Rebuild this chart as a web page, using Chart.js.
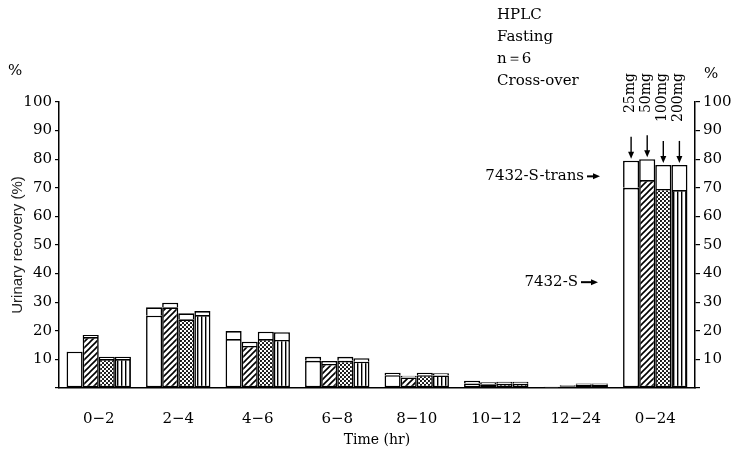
<!DOCTYPE html>
<html><head><meta charset="utf-8">
<script src="https://cdn.jsdelivr.net/npm/chart.js@4/dist/chart.umd.min.js"></script>
<style>html,body{margin:0;padding:0;background:#fff}#wrap{width:732px;height:459px}</style>
</head><body><div id="wrap"><canvas id="c" width="732" height="459"></canvas></div>
<script>
const categories = ['0\u22122','2\u22124','4\u22126','6\u22128','8\u221210','10\u221212','12\u221224','0\u221224'];
const doses = ['25mg','50mg','100mg','200mg'];
// 7432-S (lower, patterned part)
const s25  = [12.7, 25.3, 17.1, 9.5, 4.5, 1.6, 0.2, 70.0];
const s50  = [17.8, 28.2, 14.7, 8.4, 3.7, 1.3, 0.6, 72.7];
const s100 = [10.1, 24.0, 17.1, 9.5, 4.5, 1.5, 1.1, 69.6];
const s200 = [10.1, 25.5, 16.8, 9.2, 4.4, 1.5, 1.1, 69.2];
// 7432-S-trans (upper, white part)
const tr25  = [0.1, 2.9, 2.8, 1.4, 0.8, 0.9, 0.2, 9.5];
const tr50  = [0.7, 1.6, 1.5, 1.0, 0.6, 0.7, 0.4, 7.3];
const tr100 = [0.8, 2.1, 2.6, 1.4, 0.8, 0.7, 0.5, 8.4];
const tr200 = [0.8, 1.4, 2.7, 1.2, 0.8, 0.7, 0.5, 8.8];
const yTicks = [10,20,30,40,50,60,70,80,90,100];

const canvas = document.getElementById('c');
const ctx = canvas.getContext('2d');
function mk(w,h,draw){const c=document.createElement('canvas');c.width=w;c.height=h;const g=c.getContext('2d');g.fillStyle='#fff';g.fillRect(0,0,w,h);draw(g);return ctx.createPattern(c,'repeat');}
const pHatch = mk(6,6,g=>{g.strokeStyle='#000';g.lineWidth=1.6;g.beginPath();g.moveTo(-1,7);g.lineTo(7,-1);g.moveTo(-1,1);g.lineTo(1,-1);g.moveTo(5,7);g.lineTo(7,5);g.stroke();});
const pDots = mk(4,4,g=>{g.fillStyle='#000';g.beginPath();g.arc(1,1,1.05,0,7);g.fill();g.beginPath();g.arc(3,3,1.05,0,7);g.fill();});
const pVert = mk(4,4,g=>{g.fillStyle='#000';g.fillRect(1,0,1.4,4);});
const fills = ['#fff', pHatch, pDots, pVert];
const sArr = [s25,s50,s100,s200];
const tArr = [tr25,tr50,tr100,tr200];

const datasets = [];
for (let i=0;i<4;i++) datasets.push({label:'7432-S '+doses[i],data:sArr[i],stack:'d'+i,backgroundColor:fills[i],borderColor:'#000',borderWidth:1.6,borderSkipped:false});
for (let i=0;i<4;i++) datasets.push({label:'7432-S-trans '+doses[i],data:tArr[i],stack:'d'+i,backgroundColor:'#fff',borderColor:'#000',borderWidth:1.6,borderSkipped:'bottom'});

const serif = 'DejaVu Serif';
const annot = {
  id:'annot',
  afterDraw(chart){
    const c=chart.ctx; c.save(); c.fillStyle='#000'; c.strokeStyle='#000';
    c.font='15px "'+serif+'"'; c.textBaseline='middle'; c.textAlign='left';
    c.fillText('%',8,71); c.fillText('%',704,74);
    c.fillText('HPLC',497,15); c.fillText('Fasting',497,37); c.fillText('n\uFF1D6',497,59); c.fillText('Cross-over',497,81);
    const y=chart.scales.y;
    for (let i=0;i<4;i++){
      const bar=chart.getDatasetMeta(4+i).data[7];
      const x=bar.x, top=bar.y;
      c.save(); c.translate(x-1,73); c.rotate(-Math.PI/2); c.font='14px "'+serif+'"'; c.textAlign='right'; c.textBaseline='middle'; c.fillText(doses[i],0,0); c.restore();
      const yEnd=top-2, yStart=yEnd-22;
      c.lineWidth=1.4; c.beginPath(); c.moveTo(x,yStart); c.lineTo(x,yEnd-5); c.stroke();
      c.beginPath(); c.moveTo(x-3,yEnd-7); c.lineTo(x+3,yEnd-7); c.lineTo(x,yEnd); c.closePath(); c.fill();
    }
    c.font='15px "'+serif+'"'; c.textAlign='right'; c.textBaseline='middle';
    const ly1=y.getPixelForValue(74), ly2=y.getPixelForValue(37);
    c.fillText('7432-S-trans',584,ly1); c.fillText('7432-S',578,ly2);
    function arr(x0,x1,yy){c.lineWidth=2;c.beginPath();c.moveTo(x0,yy);c.lineTo(x1-5,yy);c.stroke();c.beginPath();c.moveTo(x1-7,yy-3);c.lineTo(x1,yy);c.lineTo(x1-7,yy+3);c.closePath();c.fill();}
    arr(587,600,ly1); arr(581,598,ly2);
    c.restore();
  }
};

new Chart(ctx,{
  type:'bar',
  data:{labels:categories,datasets},
  options:{
    responsive:false,animation:false,
    layout:{padding:{top:102,left:0,right:0,bottom:0}},
    datasets:{bar:{categoryPercentage:0.81,barPercentage:1.0}},
    plugins:{legend:{display:false},tooltip:{enabled:false}},
    scales:{
      x:{stacked:true,grid:{display:false},border:{display:true,color:'#000',width:1.5},
         ticks:{color:'#000',font:{family:serif,size:15},padding:14,maxRotation:0},
         title:{display:true,text:'Time (hr)',color:'#000',font:{family:serif,size:14},padding:{top:0,bottom:10}},
         afterFit(s){s.height=71;}},
      y:{stacked:true,min:0,max:100,position:'left',
         afterBuildTicks(s){s.ticks=[0].concat(yTicks).map(v=>({value:v}));},
         ticks:{color:'#000',font:{family:serif,size:15},padding:3,callback:v=>v===0?'':String(v)},
         grid:{drawOnChartArea:false,drawTicks:true,tickLength:4,color:'#000',lineWidth:1.2},
         border:{display:true,color:'#000',width:1.5},
         title:{display:true,text:'Urinary recovery (%)',color:'#222',font:{family:'Liberation Sans',size:15},padding:{top:9,bottom:0}},
         afterFit(s){s.width=59;}},
      y2:{min:0,max:100,position:'right',
         afterBuildTicks(s){s.ticks=[0].concat(yTicks).map(v=>({value:v}));},
         ticks:{color:'#000',font:{family:serif,size:15},padding:3,callback:v=>v===0?'':String(v)},
         grid:{drawOnChartArea:false,drawTicks:true,tickLength:5,color:'#000',lineWidth:1.2},
         border:{display:true,color:'#000',width:1.5},
         afterFit(s){s.width=37;}}
    }
  },
  plugins:[annot]
});
</script></body></html>
